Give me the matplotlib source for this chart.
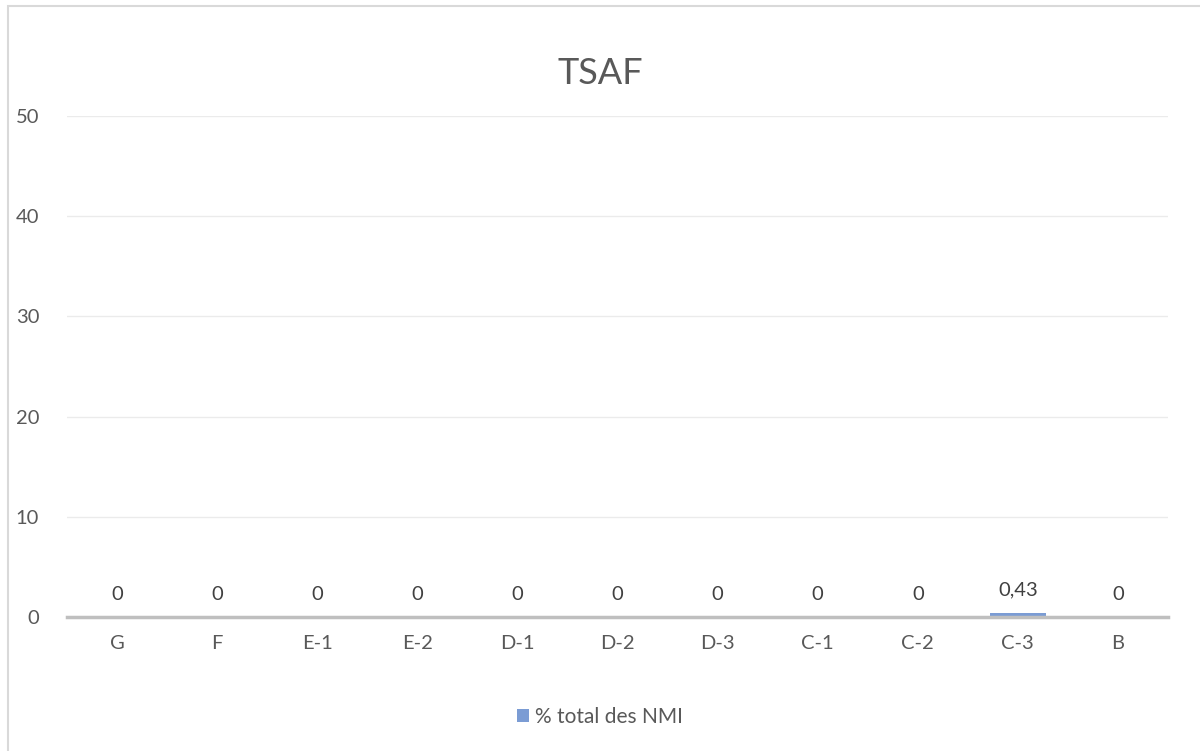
import matplotlib.pyplot as plt
from matplotlib.patches import Rectangle

# Data
categories = ["G", "F", "E-1", "E-2", "D-1", "D-2", "D-3", "C-1", "C-2", "C-3", "B"]
values = [0, 0, 0, 0, 0, 0, 0, 0, 0, 0.43, 0]
labels = ["0", "0", "0", "0", "0", "0", "0", "0", "0", "0,43", "0"]
y_ticks = [0, 10, 20, 30, 40, 50]

plt.rcParams["font.family"] = ["Lato", "DejaVu Sans"]
text_color = "#595959"

fig = plt.figure(figsize=(12, 7.51), dpi=100)
ax = fig.add_axes([67 / 1200, 1 - 617 / 751, 1101 / 1200, 501 / 751])

# outer chart border (light gray)
fig.patches.append(Rectangle((8 / 1200, -0.1), 1.2, 1 - 6 / 751 + 0.1,
                             transform=fig.transFigure, fill=False,
                             edgecolor="#D9D9D9", linewidth=1.5))

x = range(len(categories))
bars = ax.bar(x, values, width=0.56, color="#7B9CD4", label="% total des NMI", zorder=3)

for xi, v, lab in zip(x, values, labels):
    ax.annotate(lab, (xi, v), xytext=(0, 10), textcoords="offset points",
                ha="center", va="bottom", fontsize=14.5, color="#404040")

ax.set_xlim(-0.5, len(categories) - 0.5)
ax.set_ylim(0, 50)
ax.set_yticks(y_ticks)
ax.set_xticks(list(x))
ax.set_xticklabels(categories)
ax.tick_params(axis="both", length=0, labelsize=14.5, labelcolor=text_color)
ax.tick_params(axis="x", pad=13)
ax.tick_params(axis="y", pad=20)
ax.grid(axis="y", color="#EBEBEB", linewidth=1, zorder=0)
for s in ["top", "right", "left"]:
    ax.spines[s].set_visible(False)
ax.spines["bottom"].set_color("#BFBFBF")
ax.spines["bottom"].set_linewidth(2.5)
ax.spines["bottom"].set_zorder(4)

fig.text(0.5, 1 - 73 / 751, "TSAF", ha="center", va="center", fontsize=26,
         color=text_color)

leg = ax.legend(loc="center", bbox_to_anchor=(0.5, 1 - 717 / 751), bbox_transform=fig.transFigure,
                frameon=False, fontsize=15, handlelength=0.6, handleheight=0.6,
                handletextpad=0.3, labelcolor=text_color)

plt.savefig("out.png")
